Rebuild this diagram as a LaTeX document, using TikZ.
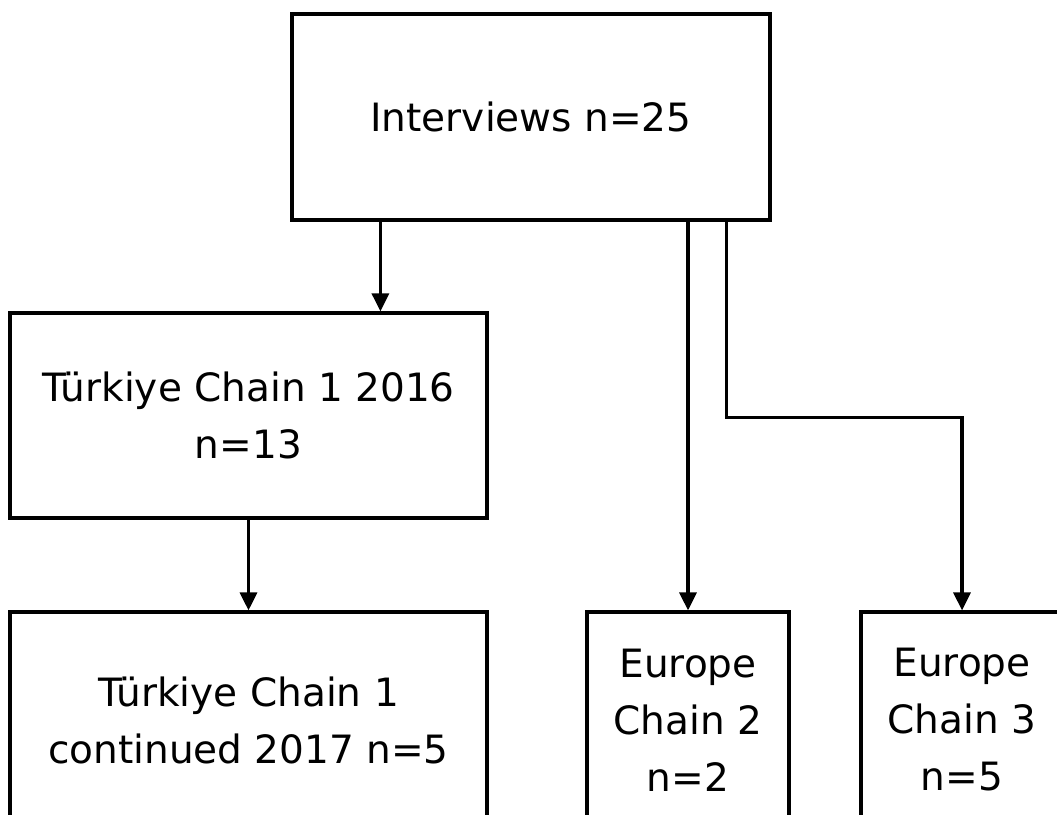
\documentclass[tikz,border=0pt]{standalone}
\usepackage{fontspec}
\setmainfont{DejaVu Sans}
\usetikzlibrary{arrows.meta}
\begin{document}
\begin{tikzpicture}[x=1pt,y=-1pt,
  box/.style={draw=black, line width=3.2pt, align=center, inner sep=0pt,
              font=\fontsize{39}{57}\selectfont},
  conn/.style={draw=black, line width=3.2pt, -{Triangle[width=17pt,length=18pt]}}]
\useasboundingbox (0,0) rectangle (1057,814);
\fill[white] (0,0) rectangle (1057,814);
\clip (0,0) rectangle (1057,814);
\node[box, minimum width=478pt, minimum height=206pt] (top) at (531,117) {Interviews n=25};
\node[box, minimum width=477pt, minimum height=205pt] (mid) at (248.5,415.5) {Türkiye Chain 1 2016\\n=13};
\node[box, minimum width=477pt, minimum height=216pt] (tl) at (248.5,720) {Türkiye Chain 1\\continued 2017 n=5};
\node[box, minimum width=202pt, minimum height=216pt] (e2) at (688,720) {Europe\\Chain 2\\n=2};
\node[box, minimum width=202pt, minimum height=216pt] (e3) at (962,720) {Europe\\Chain 3\\n=5};
\draw[conn] ([xshift=90pt]top.south west) -- ([xshift=90pt]top.south west |- mid.north);
\draw[conn] (mid.south) -- (tl.north);
\draw[conn] (e2.north |- top.south) -- (e2.north);
\draw[conn] ([xshift=436pt]top.south west) -- ++(0,196) -| (e3.north);
\end{tikzpicture}
\end{document}
